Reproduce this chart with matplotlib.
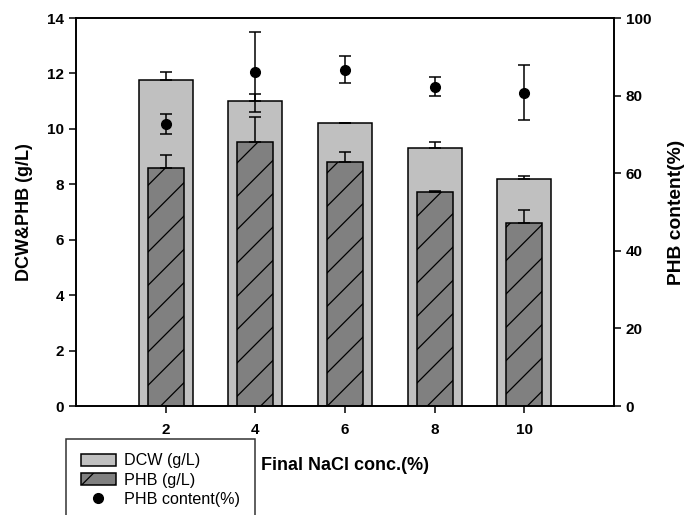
import matplotlib
matplotlib.use('Agg')
import matplotlib.pyplot as plt
from matplotlib.patches import Patch
from matplotlib.lines import Line2D

plt.rcParams['font.family'] = ['Liberation Sans', 'DejaVu Sans']
plt.rcParams['hatch.linewidth'] = 0.9

# data
nacl = [2, 4, 6, 8, 10]
dcw = [11.78, 11.02, 10.2, 9.31, 8.19]
dcw_err = [0.28, 0.22, 0.0, 0.2, 0.11]
phb = [8.57, 9.53, 8.81, 7.71, 6.62]
phb_err = [0.5, 0.9, 0.36, 0.04, 0.46]
phb_content = [72.7, 86.1, 86.7, 82.3, 80.7]
phb_content_err = [2.6, 10.3, 3.4, 2.5, 7.1]

fig = plt.figure(figsize=(6.84, 5.15), dpi=100)
ax = fig.add_axes([76/684, 1-406/515, (614-76)/684, (406-18)/515])
ax2 = ax.twinx()

# bars
ax.bar(nacl, dcw, width=1.2, color='#c0c0c0', edgecolor='black', linewidth=1.1, zorder=2)
ax.errorbar(nacl, dcw, yerr=[[0]*5, dcw_err], fmt='none', ecolor='black',
            elinewidth=1.1, capsize=4, capthick=1.1, zorder=3)
ax.bar(nacl, phb, width=0.8, color='#808080', edgecolor='black', linewidth=1.1,
       hatch='/', zorder=4)
ax.errorbar(nacl, phb, yerr=[[0]*5, phb_err], fmt='none', ecolor='black',
            elinewidth=1.1, capsize=4, capthick=1.1, zorder=5)

# PHB content on right axis
ax2.errorbar(nacl, phb_content, yerr=phb_content_err, fmt='o', color='black',
             markersize=7, elinewidth=1.1, capsize=4, capthick=1.1)

ax.set_xlim(0, 12)
ax.set_ylim(0, 14)
ax2.set_ylim(0, 100)
ax.set_xticks(nacl)
ax.set_yticks(range(0, 15, 2))
ax2.set_yticks(range(0, 101, 20))

for a in (ax, ax2):
    a.tick_params(direction='out', length=5, width=1.1, labelsize=11)
    a.tick_params(axis='x', pad=7)
    for lbl in a.get_xticklabels() + a.get_yticklabels():
        lbl.set_fontweight('bold')
    for s in a.spines.values():
        s.set_linewidth(1.2)

ax.set_xlabel('Final NaCl conc.(%)', fontsize=13, fontweight='bold', labelpad=15)
ax.set_ylabel('DCW&PHB (g/L)', fontsize=13, fontweight='bold', labelpad=10)
ax2.set_ylabel('PHB content(%)', fontsize=13.9, fontweight='bold', labelpad=12)

handles = [
    Patch(facecolor='#c0c0c0', edgecolor='black', linewidth=1.1, label='DCW (g/L)'),
    Patch(facecolor='#808080', edgecolor='black', linewidth=1.1, hatch='/', label='PHB (g/L)'),
    Line2D([], [], marker='o', color='black', linestyle='none', markersize=7,
           label='PHB content(%)'),
]
leg = fig.legend(handles=handles, loc='upper left', bbox_to_anchor=(66/684, 1-439/515),
                 fontsize=11.6, frameon=True, fancybox=False, edgecolor='black',
                 handlelength=2.2, handleheight=0.8, handletextpad=0.5,
                 labelspacing=0.25, borderpad=0.9, borderaxespad=0)
leg.get_frame().set_linewidth(1.1)

fig.savefig('out.png', dpi=100)
